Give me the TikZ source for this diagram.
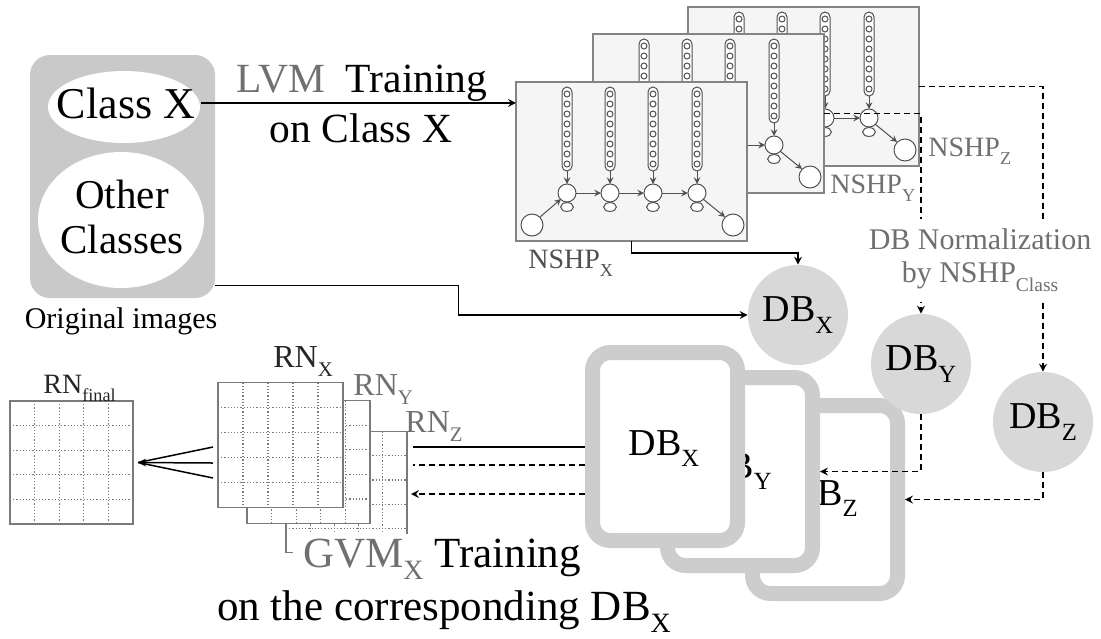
\documentclass[tikz,border=0pt]{standalone}
\usepackage{fontspec}
\IfFontExistsTF{LiberationSerif-Regular.ttf}
  {\setmainfont{LiberationSerif}[Extension=.ttf, UprightFont=*-Regular, ItalicFont=*-Italic, BoldFont=*-Bold, BoldItalicFont=*-BoldItalic]}
  {\setmainfont{Latin Modern Roman}}
\usepackage{graphicx}
\usetikzlibrary{shapes.geometric, arrows, calc}

\definecolor{boxgray}{HTML}{C9C9C9}
\definecolor{dbgray}{HTML}{D8D8D8}
\definecolor{framegray}{HTML}{CDCDCD}
\definecolor{labelgray}{HTML}{707070}
\definecolor{netgray}{HTML}{505050}
\definecolor{netfill}{HTML}{F5F5F5}
\definecolor{gridgray}{HTML}{7A7A7A}

% low subscript
\newcommand{\sbx}[1]{\raisebox{-0.3em}{\scalebox{0.65}{#1}}}

% dotted 5x5 grid inside a node
\newcommand{\rngrid}[1]{%
  \foreach \k in {1,...,4} {
    \draw[gridline] ($(#1.north west)!\k/5!(#1.north east)$) -- ($(#1.south west)!\k/5!(#1.south east)$);
    \draw[gridline] ($(#1.north west)!\k/5!(#1.south west)$) -- ($(#1.north east)!\k/5!(#1.south east)$);
  }}

% one NSHP network sheet
\tikzset{
  pics/nshpnet/.style={code={
    \node[netbox, anchor=north west] (-box) at (0,0) {};
    \foreach \cx in {51,94,137,181} {
      \draw[netcol] (\cx-5,5) rectangle (\cx+5,89);
      \foreach \cy in {12,22,...,82} \draw[netline] (\cx,\cy) circle (1.5pt);
      \draw[netarrow] (\cx,89) -- (\cx,102);
      \draw[netline] (\cx,125) ellipse [x radius=3.2pt, y radius=2.2pt];
      \draw[netline] (\cx,111) circle (4.5pt);
    }
    \foreach \ca/\cb in {51/94,94/137,137/181}
      \draw[netarrow] (\ca+9,111) -- (\cb-9,111);
    \draw[netline] (16,143) circle (5.5pt);
    \draw[netline] (217,143) circle (5.5pt);
    \draw[netarrow] (24,135) -- (45,117);
    \draw[netarrow] (187,117) -- (209,135);
  }}
}

\begin{document}
\begin{tikzpicture}[x=0.5pt, y=-0.5pt, >=stealth]

% Defined styles
\tikzstyle{arrow} = [line width=0.75pt, ->, >=stealth]
\tikzstyle{plainline} = [line width=0.75pt]
\tikzstyle{dashline} = [line width=0.75pt, dash pattern=on 3pt off 2pt]
\tikzstyle{dasharrow} = [dashline, ->, >=stealth]
\tikzstyle{netbox} = [rectangle, draw=netgray!70, line width=0.6pt, fill=netfill, minimum width=115.5pt, minimum height=79.5pt, inner sep=0pt, outer sep=0pt]
\tikzstyle{netcol} = [draw=netgray, line width=0.5pt, rounded corners=2.5pt, fill=white]
\tikzstyle{netline} = [draw=netgray, line width=0.5pt, fill=white]
\tikzstyle{netarrow} = [draw=netgray, line width=0.5pt, ->, >=stealth]
\tikzstyle{netlabel} = [inner sep=0pt, font=\fontsize{14pt}{16pt}\selectfont]
\tikzstyle{dbcircle} = [circle, fill=dbgray, minimum size=50pt, inner sep=0pt, font=\fontsize{19pt}{22pt}\selectfont]
\tikzstyle{dbframe} = [rectangle, draw=framegray, line width=7.5pt, rounded corners=9pt, fill=white, minimum width=72.5pt, minimum height=94pt]
\tikzstyle{dblabel} = [inner sep=0pt, font=\fontsize{19pt}{22pt}\selectfont]
\tikzstyle{rnbox} = [rectangle, draw=gridgray, line width=0.8pt, fill=white, inner sep=0pt, outer sep=0pt]
\tikzstyle{gridline} = [draw=gridgray, densely dotted, line width=0.6pt]
\tikzstyle{rnlabel} = [inner sep=0pt, font=\fontsize{16pt}{18pt}\selectfont]
\tikzstyle{biglabel} = [inner sep=1pt, font=\fontsize{20.75pt}{25pt}\selectfont]
\tikzstyle{lowlabel} = [inner sep=1pt, font=\fontsize{21.5pt}{25pt}\selectfont]

\useasboundingbox (0,0) rectangle (1101,638);

% --- Original images ---
\node (orig) [rectangle, rounded corners=10pt, fill=boxgray, minimum width=92.5pt, minimum height=121.5pt] at (122.5,176.5) {};
\fill[white] (124,107) ellipse [x radius=38pt, y radius=18pt];
\fill[white] (121,220) ellipse [x radius=41.5pt, y radius=34pt];
\node (classx) [inner sep=1pt, font=\fontsize{22pt}{26pt}\selectfont, anchor=base] at (126,118) {Class X};
\node (others) [inner sep=1pt, align=center, font=\fontsize{20.5pt}{22.5pt}\selectfont] at (122,217) {Other\\Classes};
\node (origlab) [inner sep=1pt, font=\fontsize{15pt}{18pt}\selectfont, anchor=base] at (121,328) {Original images};

% --- NSHP sheets (back to front) ---
\pic (netz) at (688,7) {nshpnet};
\pic (nety) at (593,34) {nshpnet};
\pic (netx) at (516,82) {nshpnet};
\node (nshpxlab) [netlabel, text=netgray, anchor=base west] at (528,268) {NSHP\sbx{X}};
\node (nshpylab) [netlabel, text=labelgray, anchor=base west] at (830,193) {NSHP\sbx{Y}};
\node (nshpzlab) [netlabel, text=labelgray, anchor=base west] at (928,156) {NSHP\sbx{Z}};

% --- LVM training ---
\node (lvmtop) [biglabel, anchor=base] at (362,92) {\textcolor{labelgray}{LVM}\ \ Training};
\node (lvmbot) [biglabel, anchor=base] at (361,142) {on Class X};
\draw [arrow] ([xshift=2pt]classx.east) -- (classx.east -| netx-box.west);

% --- RN grids ---
\node (rnz) [rnbox, minimum size=60.5pt] at (346.5,492) {}; \rngrid{rnz}
\node (rny) [rnbox, minimum size=61.5pt] at (308.5,462) {}; \rngrid{rny}
\node (rnx) [rnbox, minimum size=62.5pt] at (280.5,445) {}; \rngrid{rnx}
\node (rnfinal) [rnbox, minimum size=61.5pt] at (71.5,462.5) {}; \rngrid{rnfinal}
\node (rnxlab) [rnlabel, text=black!85, anchor=base west] at (273,367) {RN\sbx{X}};
\node (rnylab) [rnlabel, text=labelgray, anchor=base west] at (353,395) {RN\sbx{Y}};
\node (rnzlab) [rnlabel, text=labelgray, anchor=base west] at (405,432) {RN\sbx{Z}};
\node (rnfinallab) [rnlabel, font=\fontsize{14pt}{16pt}\selectfont, text=black!85, anchor=base west] at (43,393) {RN\sbx{final}};

% fan into RN_final
\coordinate (fan1) at (213,447);
\coordinate (fan2) at (213,463);
\coordinate (fan3) at (213,478);
\coordinate (merge) at ([xshift=2.5pt]rnfinal.east);
\draw [plainline] (fan1) -- (merge);
\draw [plainline] (fan3) -- (merge);
\draw [arrow] (fan2) -- (merge);

% --- GVM training ---
\node (gvmtop) [lowlabel, fill=white, inner xsep=5pt, inner ysep=2.5pt, anchor=base] at (442,567) {\textcolor{labelgray}{GVM\sbx{X}}\ Training};
\node (gvmbot) [lowlabel, anchor=base] at (444,620) {on the corresponding DB\sbx{X}};

% --- DB frames (back to front) ---
\node (framez) [dbframe] at (825,499.5) {};
\node (dbzlab) [dblabel, anchor=base east] at (858,505) {DB\sbx{Z}};
\node (framey) [dbframe] at (740,471.5) {};
\node (dbylab) [dblabel, anchor=base east] at (772,478) {DB\sbx{Y}};
\node (framex) [dbframe] at (665,446.5) {};
\node (dbxlab) [dblabel, anchor=base] at (664,455) {DB\sbx{X}};

% frames to RN grids
\coordinate (rnin1) at (413,447);
\coordinate (rnin2) at (413,465);
\coordinate (rnin3) at (411,494);
\draw [plainline] (framex.west |- rnin1) -- (rnin1);
\draw [dashline] (framex.west |- rnin2) -- (rnin2);
\draw [dasharrow] (framex.west |- rnin3) -- (rnin3);

% --- DB circles ---
\node (dbx) [dbcircle] at (798,315) {DB\sbx{X}};
\node (dby) [dbcircle] at (921,364) {DB\sbx{Y}};
\node (dbz) [dbcircle] at (1043,422) {DB\sbx{Z}};

\draw [arrow] (netx-box.south) -- ++(0,12) -| (dbx.north);
\draw [arrow] ([yshift=6.5pt]orig.south east) -- ++(243,0) |- (dbx.west);

% normalization by NSHP
\draw [dasharrow] (netz-box.east) -| (dbz.north);
\draw [dasharrow] (nety-box.east) -| (dby.north);
\node (normlab) [fill=white, inner xsep=2pt, inner ysep=5pt, align=center, text=labelgray, font=\fontsize{15pt}{16.5pt}\selectfont] at (980,260) {DB Normalization\\by NSHP\sbx{Class}};

\draw [dasharrow] (dby.south) |- (framey.east);
\draw [dasharrow] (dbz.south) |- (framez.east);

\end{tikzpicture}
\end{document}
